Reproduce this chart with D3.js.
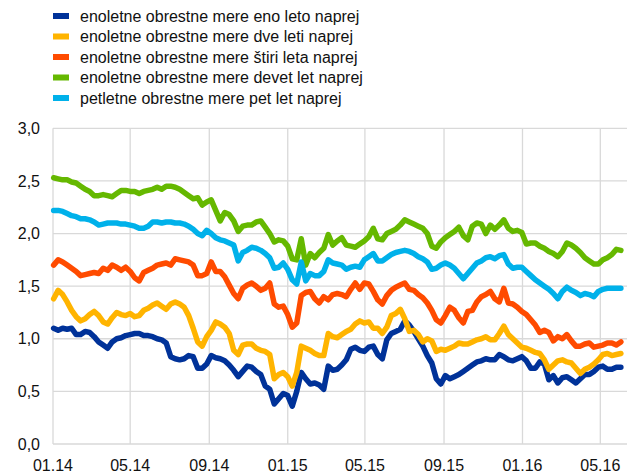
<!DOCTYPE html>
<html>
<head>
<meta charset="utf-8">
<script src="https://d3js.org/d3.v7.min.js"></script>
<style>
  body { margin: 0; background: #fff; }
  text { font-family: "Liberation Sans", Arial, sans-serif; fill: #111; }
</style>
</head>
<body>
<div id="chart"></div>
<script>
// weekly observations, starting 2 Jan 2014
var startDate = new Date(2014, 0, 2);

var seriesNames = [
  "enoletne obrestne mere eno leto naprej",
  "enoletne obrestne mere dve leti naprej",
  "enoletne obrestne mere štiri leta naprej",
  "enoletne obrestne mere devet let naprej",
  "petletne obrestne mere pet let naprej"
];
var seriesColors = ["#003299", "#ffb400", "#ff4b00", "#65b800", "#00b1ea"];

var oneYearIn1 = [
  1.10,1.08,1.10,1.09,1.10,1.04,1.04,1.07,1.06,1.02,
  0.97,0.94,0.91,0.97,1.00,1.01,1.03,1.04,1.05,1.05,
  1.03,1.03,1.02,1.00,0.99,0.96,0.83,0.81,0.80,0.81,
  0.84,0.83,0.72,0.72,0.76,0.84,0.82,0.81,0.79,0.75,
  0.70,0.64,0.69,0.74,0.73,0.69,0.66,0.55,0.52,0.38,
  0.43,0.48,0.46,0.36,0.50,0.68,0.62,0.57,0.58,0.56,
  0.52,0.74,0.70,0.71,0.75,0.80,0.90,0.92,0.89,0.88,
  0.92,0.93,0.85,0.81,0.99,1.05,1.07,1.09,1.17,1.13,
  1.07,1.00,0.93,0.84,0.77,0.62,0.57,0.65,0.62,0.64,
  0.66,0.69,0.72,0.75,0.78,0.79,0.81,0.80,0.80,0.85,
  0.83,0.80,0.79,0.81,0.83,0.79,0.72,0.72,0.78,0.76,
  0.61,0.65,0.58,0.63,0.64,0.61,0.58,0.62,0.66,0.66,
  0.69,0.73,0.74,0.71,0.71,0.73,0.73
];
var oneYearIn2 = [
  1.38,1.46,1.42,1.35,1.27,1.21,1.17,1.19,1.23,1.26,
  1.22,1.16,1.14,1.20,1.25,1.23,1.22,1.24,1.21,1.22,
  1.27,1.29,1.32,1.34,1.31,1.28,1.33,1.35,1.33,1.30,
  1.22,1.10,0.97,0.93,1.02,1.08,1.16,1.14,1.11,1.05,
  0.89,0.85,0.94,0.95,0.95,0.91,0.89,0.88,0.85,0.62,
  0.66,0.68,0.64,0.55,0.68,0.93,0.91,0.89,0.86,0.84,
  0.84,1.05,1.02,1.01,1.04,1.07,1.09,1.14,1.17,1.15,
  1.16,1.10,1.10,1.05,1.11,1.22,1.24,1.28,1.19,1.07,
  1.08,1.04,0.97,1.00,0.98,0.88,0.90,0.89,0.91,0.93,
  0.96,0.95,0.95,0.97,0.99,1.00,1.02,0.99,0.99,1.05,
  1.12,1.04,1.00,0.96,0.92,0.91,0.89,0.87,0.86,0.80,
  0.71,0.75,0.79,0.80,0.78,0.77,0.72,0.67,0.71,0.73,
  0.76,0.80,0.85,0.86,0.84,0.85,0.86
];
var oneYearIn4 = [
  1.70,1.75,1.73,1.70,1.67,1.64,1.60,1.61,1.62,1.63,
  1.62,1.67,1.65,1.70,1.68,1.65,1.68,1.64,1.58,1.55,
  1.63,1.65,1.67,1.70,1.71,1.72,1.70,1.76,1.75,1.74,
  1.73,1.70,1.60,1.60,1.62,1.73,1.64,1.64,1.59,1.51,
  1.43,1.38,1.48,1.51,1.53,1.50,1.46,1.48,1.53,1.33,
  1.30,1.31,1.23,1.11,1.15,1.41,1.44,1.45,1.38,1.34,
  1.40,1.37,1.42,1.43,1.42,1.40,1.47,1.53,1.47,1.53,
  1.52,1.45,1.37,1.33,1.41,1.46,1.49,1.51,1.53,1.47,
  1.46,1.42,1.39,1.34,1.27,1.18,1.15,1.22,1.30,1.27,
  1.20,1.15,1.26,1.27,1.35,1.40,1.42,1.45,1.38,1.35,
  1.48,1.34,1.33,1.30,1.26,1.23,1.18,1.13,1.06,1.08,
  1.06,0.98,1.02,1.00,1.04,0.98,0.93,0.93,0.95,0.96,
  0.92,0.93,0.94,0.96,0.96,0.94,0.97
];
var oneYearIn9 = [
  2.53,2.52,2.51,2.51,2.49,2.48,2.45,2.42,2.40,2.36,
  2.36,2.37,2.36,2.35,2.38,2.41,2.41,2.40,2.40,2.38,
  2.40,2.41,2.42,2.44,2.42,2.45,2.45,2.44,2.42,2.39,
  2.36,2.33,2.34,2.27,2.30,2.32,2.22,2.12,2.20,2.18,
  2.12,2.02,2.07,2.08,2.08,2.11,2.12,2.06,2.00,1.92,
  1.94,1.93,1.88,1.76,1.75,1.95,1.70,1.81,1.77,1.82,
  1.86,1.99,1.89,1.93,1.96,1.89,1.88,1.87,1.90,1.93,
  1.97,2.05,1.95,1.94,2.00,2.02,2.04,2.08,2.13,2.11,
  2.09,2.07,2.05,2.00,1.88,1.86,1.92,1.96,1.99,2.02,
  2.06,1.98,1.94,2.07,2.10,2.09,2.00,2.08,2.04,2.08,
  2.13,2.05,2.02,2.03,2.01,1.90,1.91,1.91,1.88,1.86,
  1.83,1.81,1.78,1.83,1.91,1.89,1.86,1.82,1.77,1.74,
  1.71,1.71,1.75,1.77,1.80,1.85,1.84
];
var fiveYearIn5 = [
  2.22,2.22,2.21,2.19,2.17,2.16,2.14,2.14,2.13,2.11,
  2.08,2.09,2.10,2.10,2.10,2.09,2.09,2.08,2.07,2.05,
  2.05,2.07,2.11,2.11,2.10,2.11,2.11,2.10,2.10,2.09,
  2.07,2.04,2.00,1.98,2.03,2.00,1.96,1.94,1.93,1.91,
  1.89,1.74,1.82,1.84,1.87,1.86,1.84,1.81,1.77,1.67,
  1.68,1.72,1.66,1.56,1.52,1.73,1.55,1.62,1.60,1.60,
  1.64,1.75,1.72,1.71,1.70,1.66,1.68,1.69,1.68,1.75,
  1.78,1.81,1.74,1.74,1.77,1.80,1.82,1.83,1.84,1.83,
  1.81,1.78,1.76,1.73,1.66,1.67,1.70,1.72,1.70,1.67,
  1.62,1.57,1.62,1.67,1.72,1.74,1.77,1.78,1.76,1.79,
  1.80,1.71,1.67,1.68,1.68,1.64,1.60,1.56,1.53,1.50,
  1.47,1.43,1.38,1.45,1.49,1.46,1.44,1.41,1.43,1.42,
  1.40,1.45,1.47,1.48,1.48,1.48,1.48
];

var yTicks = [0, 0.5, 1, 1.5, 2, 2.5, 3];
var xTickDates = [
  new Date(2014, 0, 1), new Date(2014, 4, 1), new Date(2014, 8, 1),
  new Date(2015, 0, 1), new Date(2015, 4, 1), new Date(2015, 8, 1),
  new Date(2016, 0, 1), new Date(2016, 4, 1)
];
var xTickLabels = ["01.14", "05.14", "09.14", "01.15", "05.15", "09.15", "01.16", "05.16"];

var allSeries = [oneYearIn1, oneYearIn2, oneYearIn4, oneYearIn9, fiveYearIn5];
var dates = oneYearIn1.map(function (d, i) { return d3.timeDay.offset(startDate, 7 * i); });

var W = 627, H = 473;
var plotLeft = 53, plotTop = 128.3, plotBottom = 444;

var x = d3.scaleTime()
  .domain([new Date(2014, 0, 1), new Date(2016, 4, 1)])
  .range([plotLeft, 600.3]);
var y = d3.scaleLinear()
  .domain([0, 3])
  .range([plotBottom, plotTop]);

var svg = d3.select("#chart").append("svg")
  .attr("width", W)
  .attr("height", H);

// gridlines
svg.append("g").selectAll("line")
  .data(yTicks.slice(1))
  .enter().append("line")
  .attr("x1", plotLeft).attr("x2", W)
  .attr("y1", function (d) { return y(d); })
  .attr("y2", function (d) { return y(d); })
  .attr("stroke", "#d9d9d9").attr("stroke-width", 1.3);

svg.append("g").selectAll("line")
  .data(xTickDates.slice(1))
  .enter().append("line")
  .attr("x1", function (d) { return x(d); })
  .attr("x2", function (d) { return x(d); })
  .attr("y1", plotTop).attr("y2", plotBottom)
  .attr("stroke", "#d9d9d9").attr("stroke-width", 1.3);

// axis lines
svg.append("line")
  .attr("x1", plotLeft).attr("x2", plotLeft).attr("y1", plotTop).attr("y2", plotBottom)
  .attr("stroke", "#d9d9d9").attr("stroke-width", 1.3);
svg.append("line")
  .attr("x1", plotLeft).attr("x2", W).attr("y1", plotBottom).attr("y2", plotBottom)
  .attr("stroke", "#d9d9d9").attr("stroke-width", 1.3);

// tick labels
svg.append("g").selectAll("text")
  .data(yTicks)
  .enter().append("text")
  .attr("x", 40)
  .attr("y", function (d) { return y(d); })
  .attr("dy", "0.35em")
  .attr("text-anchor", "end")
  .style("font-size", "16px")
  .text(function (d) { return d3.format(".1f")(d).replace(".", ","); });

svg.append("g").selectAll("text")
  .data(xTickDates)
  .enter().append("text")
  .attr("x", function (d) { return x(d); })
  .attr("y", 471)
  .attr("text-anchor", "middle")
  .style("font-size", "16px")
  .text(function (d, i) { return xTickLabels[i]; });

// lines
var line = d3.line()
  .x(function (d, i) { return x(dates[i]); })
  .y(function (d) { return y(d); });

allSeries.forEach(function (s, k) {
  svg.append("path")
    .datum(s)
    .attr("fill", "none")
    .attr("stroke", seriesColors[k])
    .attr("stroke-width", 5.5)
    .attr("stroke-linejoin", "round")
    .attr("stroke-linecap", "round")
    .attr("d", line);
});

// legend
var legend = svg.append("g");
seriesNames.forEach(function (name, k) {
  var cy = 16 + k * 20.5;
  legend.append("rect")
    .attr("x", 53).attr("y", cy - 3)
    .attr("width", 16).attr("height", 6)
    .attr("fill", seriesColors[k]);
  legend.append("text")
    .attr("x", 80).attr("y", cy)
    .attr("dy", "0.35em")
    .style("font-size", "16px")
    .text(name);
});
</script>
</body>
</html>
